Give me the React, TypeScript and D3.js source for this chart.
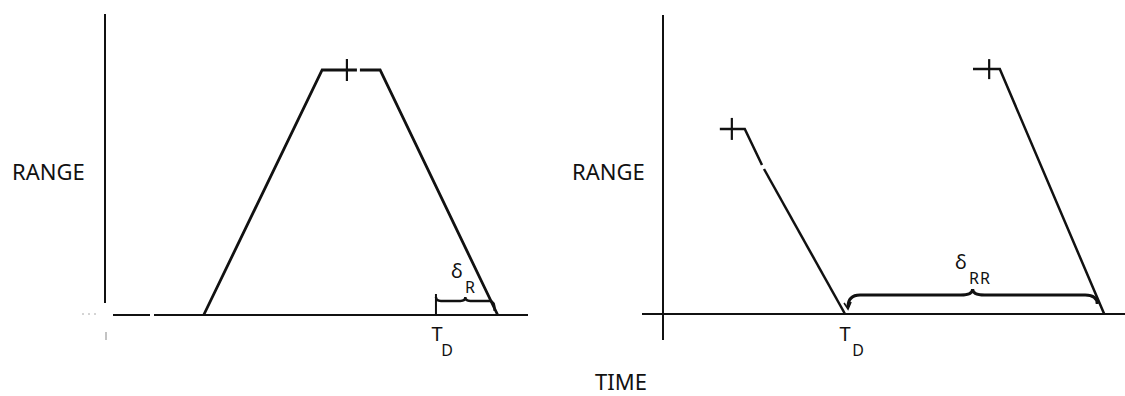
import React from "react";
import * as d3 from "d3";

// Left panel: a single target pass, range vs. time (arbitrary units)
const passTime = [23.5, 51.7, 65.5, 93.5];
const passRange = [0, 81.4, 81.4, 0];
const passMarkTime = 57.6;
const leftTd = 78.8;

// Right panel: two descending segments
const seg1Time = [12.3, 17.7, 39.4];
const seg1Range = [61.9, 61.9, 0];
const seg1Mark = 14.9;
const seg2Time = [67.1, 72.9, 95.5];
const seg2Range = [81.9, 81.9, 0];
const seg2Mark = 70.6;
const rightTd = 39.4;

const axisLabelY = "RANGE";
const axisLabelX = "TIME";

const W = 1125;
const H = 396;
const FONT = "'Noto Sans', 'DejaVu Sans', sans-serif";
const INK = "#111";

const xL = d3.scaleLinear().domain([0, 100]).range([105, 525]);
const yL = d3.scaleLinear().domain([0, 100]).range([315, 14]);
const xR = d3.scaleLinear().domain([0, 100]).range([663, 1125]);
const yR = d3.scaleLinear().domain([0, 100]).range([314, 15]);

const line = (xs: number[], ys: number[], sx: any, sy: any) =>
  d3.line<number>().x((_, i) => sx(xs[i])).y((_, i) => sy(ys[i]))(xs) as string;

// horizontal curly brace with cusp pointing up
function brace(x1: number, x2: number, y: number, dl: number, dr: number, r: number, cusp: number) {
  const xm = (x1 + x2) / 2;
  return [
    `M${x1},${y + dl}`,
    `Q${x1},${y} ${x1 + r},${y}`,
    `L${xm - r},${y}`,
    `Q${xm},${y} ${xm},${y - cusp}`,
    `Q${xm},${y} ${xm + r},${y}`,
    `L${x2 - r},${y}`,
    `Q${x2},${y} ${x2},${y + dr}`,
  ].join(" ");
}

function Cross({ x, y, h }: { x: number; y: number; h: number }) {
  return <line x1={x} x2={x} y1={y - h} y2={y + h} stroke={INK} strokeWidth={2.2} />;
}

export default function App() {
  const lp = passTime.map((t) => xL(t));
  const lTop = yL(passRange[1]);
  const base = yL(0);
  const tdL = xL(leftTd);
  const tdR = xR(rightTd);
  const baseR = yR(0);

  return (
    <svg width={W} height={H} style={{ display: "block", position: "absolute", left: 0, top: 0, background: "#fff" }}>
      <rect width={W} height={H} fill="#fff" />
      {/* ---------- left panel ---------- */}
      <line x1={xL(0)} x2={xL(0)} y1={yL(100)} y2={303} stroke={INK} strokeWidth={2} />
      <line x1={xL(0) + 1} x2={xL(0) + 1} y1={332} y2={340} stroke="#888" strokeWidth={1} />
      <line x1={82} x2={100} y1={base - 1} y2={base - 1} stroke="#aaa" strokeWidth={1} strokeDasharray="2 4" />
      <line x1={113} x2={150} y1={base} y2={base} stroke={INK} strokeWidth={2.2} />
      <line x1={154} x2={528} y1={base} y2={base} stroke={INK} strokeWidth={2.2} />
      <path d={line(passTime.slice(0, 2), passRange.slice(0, 2), xL, yL) + `L${xL(passMarkTime) + 10},${lTop}`} fill="none" stroke={INK} strokeWidth={2.8} />
      <path d={`M${xL(passMarkTime) + 13},${lTop}` + line(passTime.slice(2), passRange.slice(2), xL, yL).replace("M", "L")} fill="none" stroke={INK} strokeWidth={2.8} />
      <Cross x={xL(passMarkTime)} y={lTop} h={11} />
      {/* delta R bracket */}
      <line x1={tdL} x2={tdL} y1={294} y2={base} stroke={INK} strokeWidth={2} />
      <path d={brace(tdL, lp[3] - 3, 301, -4, 10, 5, 4)} fill="none" stroke={INK} strokeWidth={2.4} />
      <text x={457} y={278} fontFamily={FONT} fontSize={20} textAnchor="middle" fill={INK}>δ</text>
      <text x={470} y={293} fontFamily={FONT} fontSize={16} textAnchor="middle" fill={INK}>R</text>
      <text x={437} y={341} fontFamily={FONT} fontSize={20} textAnchor="middle" fill={INK}>T</text>
      <text x={447} y={356} fontFamily={FONT} fontSize={16} textAnchor="middle" fill={INK}>D</text>
      <text x={12} y={180} fontFamily={FONT} fontSize={22} fill={INK}>{axisLabelY}</text>

      {/* ---------- right panel ---------- */}
      <line x1={xR(0)} x2={xR(0)} y1={yR(100)} y2={340} stroke={INK} strokeWidth={2} />
      <line x1={642} x2={W} y1={baseR} y2={baseR} stroke={INK} strokeWidth={2.2} />
      <path d={line(seg1Time.slice(0, 2), seg1Range.slice(0, 2), xR, yR) + `L${762},${165}`} fill="none" stroke={INK} strokeWidth={2.5} />
      <path d={`M${764},${169}L${xR(seg1Time[2])},${yR(seg1Range[2])}`} fill="none" stroke={INK} strokeWidth={2.5} />
      <Cross x={xR(seg1Mark)} y={yR(seg1Range[0])} h={11} />
      <path d={line(seg2Time, seg2Range, xR, yR)} fill="none" stroke={INK} strokeWidth={2.5} />
      <Cross x={xR(seg2Mark)} y={yR(seg2Range[0])} h={10} />
      {/* delta RR bracket */}
      <path d={brace(tdR + 3, xR(seg2Time[2]) - 7, 295, 12, 9, 12, 6)} fill="none" stroke={INK} strokeWidth={3} />
      <path d={`M${tdR - 1},${303} L${tdR + 3},${309} L${tdR + 6},${302}`} fill="none" stroke={INK} strokeWidth={1.6} />
      <text x={961} y={269} fontFamily={FONT} fontSize={20} textAnchor="middle" fill={INK}>δ</text>
      <text x={980} y={284} fontFamily={FONT} fontSize={16} textAnchor="middle" fill={INK} letterSpacing={1}>RR</text>
      <text x={tdR} y={341} fontFamily={FONT} fontSize={20} textAnchor="middle" fill={INK}>T</text>
      <text x={858} y={356} fontFamily={FONT} fontSize={16} textAnchor="middle" fill={INK}>D</text>
      <text x={572} y={180} fontFamily={FONT} fontSize={22} fill={INK}>{axisLabelY}</text>

      <text x={595} y={390} fontFamily={FONT} fontSize={22} fill={INK}>{axisLabelX}</text>
    </svg>
  );
}
